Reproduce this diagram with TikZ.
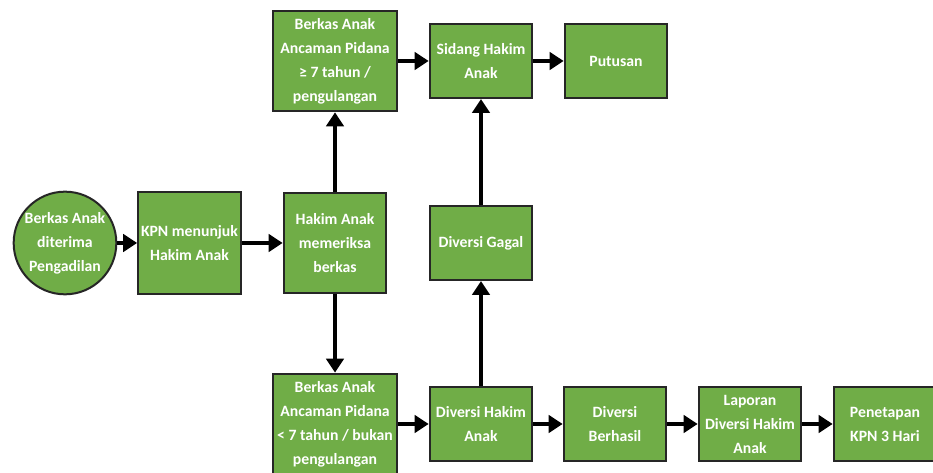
\documentclass[tikz,border=0pt]{standalone}
\usepackage{fontspec}
\setmainfont{Carlito}
\usepackage{tikz}
\usetikzlibrary{arrows.meta, shapes.geometric}
\definecolor{mygreen}{RGB}{112,173,71}
\definecolor{myblack}{gray}{0.15}

\tikzset{
    box/.style={draw=myblack, fill=mygreen, line width=1.5pt, text=white, align=center,
        font=\fontsize{11.8}{18}\selectfont\bfseries, inner sep=1pt,
        minimum width=77pt, minimum height=55.5pt},
    bigbox/.style={box, minimum width=93pt, minimum height=75.5pt},
    startnode/.style={box, circle, minimum size=77pt, minimum height=77pt, inner sep=0pt},
    flow/.style={line width=3pt, -{Triangle[length=10.5pt, width=13pt]}}
}

\begin{document}
\begin{tikzpicture}[x=0.75pt, y=-0.75pt]
    \useasboundingbox (0,0) rectangle (933,473);
    \clip (0,0) rectangle (933,473);
    \node[startnode] (terima) at (65,243) {Berkas Anak\\diterima\\Pengadilan};
    \node[box, minimum height=76pt] (kpn) at (189.5,243) {KPN menunjuk\\Hakim Anak};
    \node[box, minimum height=75pt] (periksa) at (335,243) {Hakim Anak\\memeriksa\\berkas};
    \node[bigbox] (berkasatas) at (335,61) {Berkas Anak\\Ancaman Pidana\\≥ 7 tahun /\\pengulangan};
    \node[bigbox] (berkasbawah) at (335,424) {Berkas Anak\\Ancaman Pidana\\< 7 tahun / bukan\\pengulangan};
    \node[box] (sidang) at (481,61) {Sidang Hakim\\Anak};
    \node[box] (putusan) at (616,61) {Putusan};
    \node[box] (gagal) at (481,243) {Diversi Gagal};
    \node[box] (diversi) at (481,424) {Diversi Hakim\\Anak};
    \node[box] (berhasil) at (615,424) {Diversi\\Berhasil};
    \node[box] (laporan) at (750,424) {Laporan\\Diversi Hakim\\Anak};
    \node[box] (penetapan) at (885,424) {Penetapan\\KPN 3 Hari};
    \draw[flow] (terima) -- (kpn);
    \draw[flow] (kpn) -- (periksa);
    \draw[flow] (periksa) -- (berkasatas);
    \draw[flow] (periksa) -- (berkasbawah);
    \draw[flow] (berkasatas) -- (sidang);
    \draw[flow] (sidang) -- (putusan);
    \draw[flow] (gagal) -- (sidang);
    \draw[flow] (diversi) -- (gagal);
    \draw[flow] (berkasbawah) -- (diversi);
    \draw[flow] (diversi) -- (berhasil);
    \draw[flow] (berhasil) -- (laporan);
    \draw[flow] (laporan) -- (penetapan);
\end{tikzpicture}
\end{document}
